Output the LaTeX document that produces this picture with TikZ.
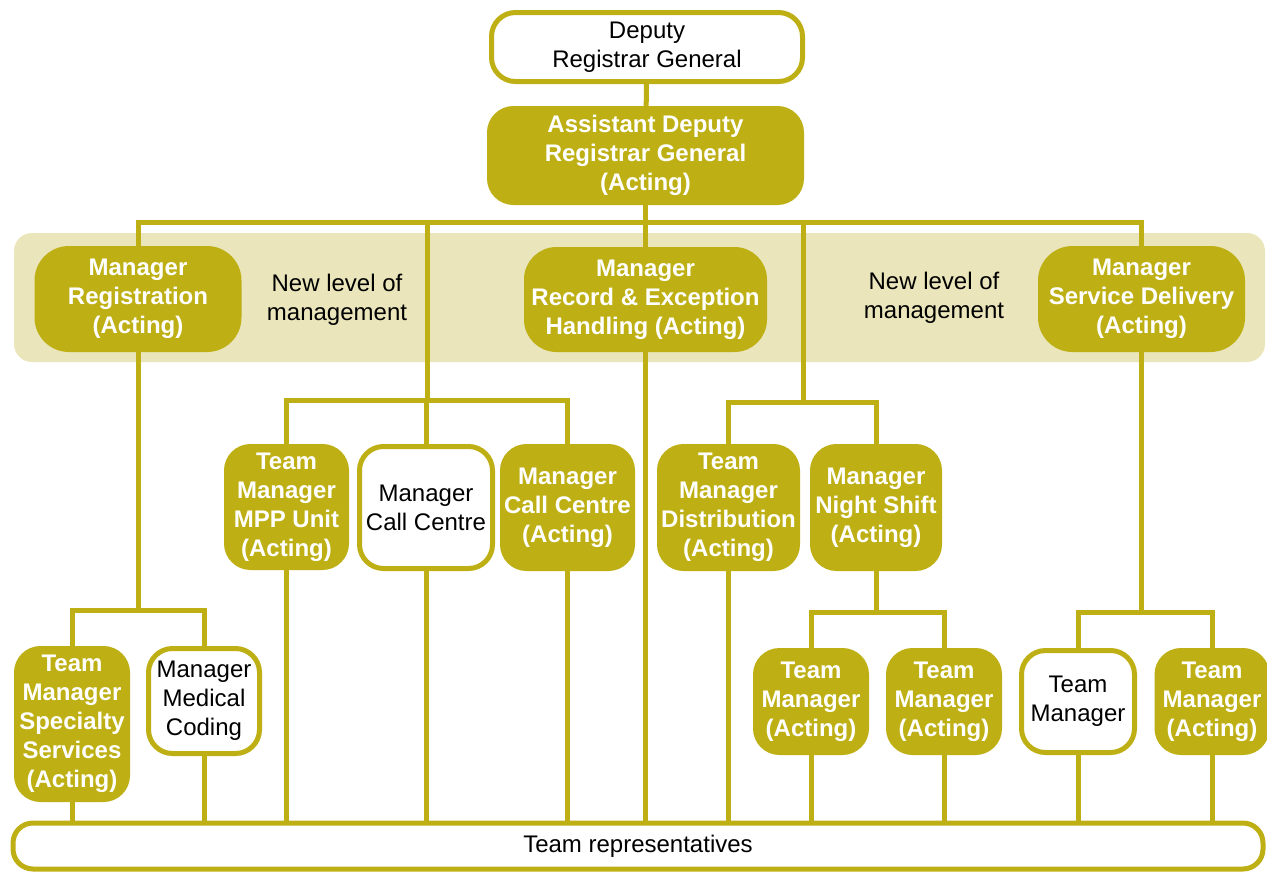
\documentclass[tikz,border=0pt]{standalone}
\usepackage{fontspec}
\setmainfont{Liberation Sans}
\usepackage{xcolor}
\usetikzlibrary{backgrounds}
\definecolor{orggold}{RGB}{190,176,20}
\definecolor{orgband}{RGB}{234,229,186}
\tikzset{
  box/.style={draw=orggold,line width=5pt,rounded corners=24pt,align=center,inner sep=1pt,
    font=\fontsize{24}{29}\selectfont},
  solidbox/.style={box,fill=orggold,text=white,font=\fontsize{24}{29}\selectfont\bfseries},
  openbox/.style={box,fill=white,text=black},
  link/.style={draw=orggold,line width=5pt},
}
\begin{document}
\begin{tikzpicture}[x=1pt,y=-1pt]
  \useasboundingbox (0,0) rectangle (1267,871);
  % top of the chart
  \node[openbox,minimum width=311,minimum height=69] (drg) at (647,47) {Deputy\\Registrar General};
  \node[solidbox,minimum width=312,minimum height=94] (adrg) at (645.5,155.5) {Assistant Deputy\\Registrar General\\(Acting)};
  % new level of management
  \node[solidbox,rounded corners=32pt,minimum width=202,minimum height=101] (mreg) at (138,299) {Manager\\Registration\\(Acting)};
  \node[solidbox,rounded corners=30pt,minimum width=238,minimum height=100] (mrec) at (645.5,299.5) {Manager\\Record \& Exception\\Handling (Acting)};
  \node[solidbox,rounded corners=32pt,minimum width=202,minimum height=101] (msd) at (1141.5,299) {Manager\\Service Delivery\\(Acting)};
  \node[align=center,font=\fontsize{24}{29}\selectfont] (nl1) at (337,300) {New level of\\management};
  \node[align=center,font=\fontsize{24}{29}\selectfont] (nl2) at (934,298) {New level of\\management};
  % middle row
  \node[solidbox,minimum width=120,minimum height=121] (tmpp) at (286.5,507) {Team\\Manager\\MPP Unit\\(Acting)};
  \node[openbox,minimum width=133,minimum height=122] (mcc) at (426,507.5) {Manager\\Call Centre};
  \node[solidbox,minimum width=130,minimum height=122] (mcca) at (567.5,507.5) {Manager\\Call Centre\\(Acting)};
  \node[solidbox,minimum width=138,minimum height=122] (tmd) at (728.5,507.5) {Team\\Manager\\Distribution\\(Acting)};
  \node[solidbox,minimum width=127,minimum height=122] (mns) at (876,507.5) {Manager\\Night Shift\\(Acting)};
  % bottom row
  \node[solidbox,minimum width=111,minimum height=151] (tmss) at (72,724) {Team\\Manager\\Specialty\\Services\\(Acting)};
  \node[openbox,minimum width=111,minimum height=105] (mmc) at (204,701) {Manager\\Medical\\Coding};
  \node[solidbox,minimum width=111,minimum height=102] (tma1) at (811,701.5) {Team\\Manager\\(Acting)};
  \node[solidbox,minimum width=111,minimum height=102] (tma2) at (944,701.5) {Team\\Manager\\(Acting)};
  \node[openbox,minimum width=113,minimum height=102] (tm) at (1078,701.5) {Team\\Manager};
  \node[solidbox,minimum width=110,minimum height=102] (tma3) at (1212,701.5) {Team\\Manager\\(Acting)};
  \node[openbox,rounded corners=20pt,minimum width=1250,minimum height=46] (reps) at (638,846) {Team representatives};
  % band and connectors behind the boxes
  \begin{scope}[on background layer]
    \fill[orgband,rounded corners=18pt] (14,233) rectangle (1265,362);
    \coordinate (bus0) at (645.5,222);
    \coordinate (bus1) at (427,400);
    \coordinate (bus2) at (803,402);
    \coordinate (bus3) at (876,612);
    \coordinate (bus4) at (138,610);
    \coordinate (bus5) at (1143,612);
    \draw[link] (drg) -- (adrg);
    \draw[link] (mreg) |- (bus0) -| (msd);
    \draw[link] (adrg) -- (adrg |- reps.north);
    \draw[link] (bus1 |- bus0) -- (bus1);
    \draw[link] (tmpp) |- (bus1) -| (mcca);
    \draw[link] (mcc) -- (mcc |- bus1);
    \draw[link] (bus2 |- bus0) -- (bus2);
    \draw[link] (tmd) |- (bus2) -| (mns);
    \draw[link] (mns) -- (bus3);
    \draw[link] (tma1) |- (bus3) -| (tma2);
    \draw[link] (mreg) -- (bus4);
    \draw[link] (tmss) |- (bus4) -| (mmc);
    \draw[link] (msd) -- (msd |- bus5);
    \draw[link] (tm) |- (bus5) -| (tma3);
    \foreach \c in {tmss,mmc,tmpp,mcc,mcca,tmd,tma1,tma2,tm,tma3}
      \draw[link] (\c) -- (\c |- reps.north);
  \end{scope}
\end{tikzpicture}
\end{document}
